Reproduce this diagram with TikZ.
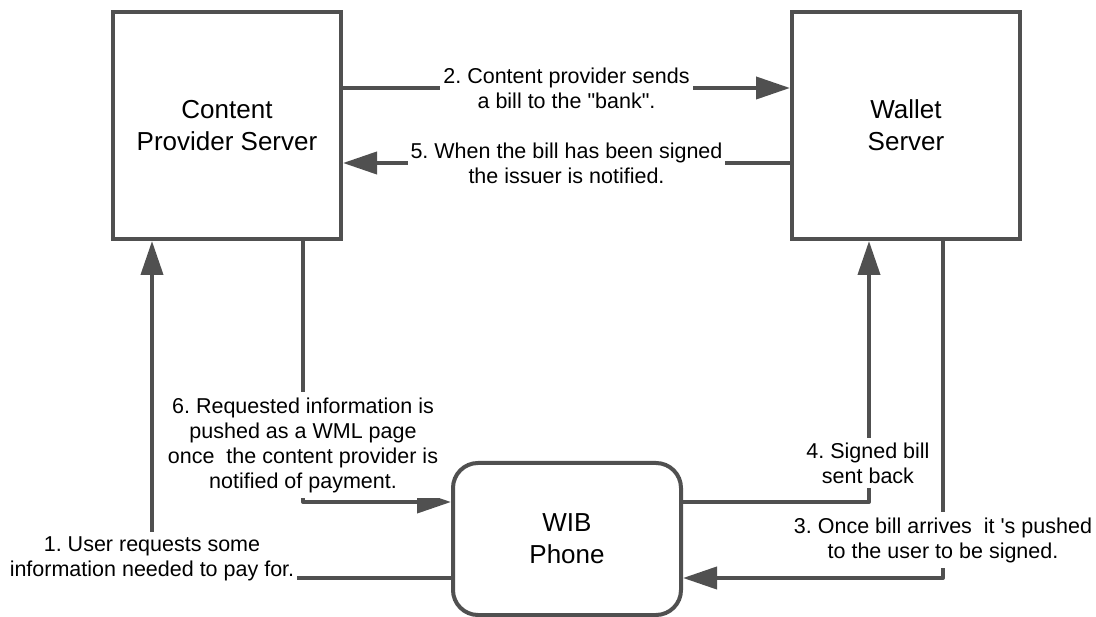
\documentclass[tikz,border=0pt]{standalone}
\usepackage{fontspec}
\setmainfont{Liberation Sans}[Ligatures=TeXOff]
\usetikzlibrary{arrows.meta}
\definecolor{linegray}{RGB}{80,80,80}
\frenchspacing
\begin{document}
\begin{tikzpicture}[x=1pt,y=-1pt,
  server/.style={draw=linegray,line width=4pt,fill=white,rectangle,
    minimum width=228pt,minimum height=227pt,inner sep=0pt,outer sep=2pt,
    align=center,font=\fontsize{26}{31.7}\selectfont},
  phone/.style={draw=linegray,line width=4pt,fill=white,rectangle,rounded corners=25pt,
    minimum width=228pt,minimum height=152pt,inner sep=0pt,outer sep=2pt,
    align=center,font=\fontsize{26}{31.7}\selectfont},
  conn/.style={draw=linegray,line width=4pt,line join=round,
    -{Triangle[length=34pt,width=22pt]}},
  lab/.style={fill=white,inner xsep=3pt,inner ysep=5pt,align=center,
    font=\fontsize{21.5}{25}\selectfont}]
\useasboundingbox (0,0) rectangle (1096,617);

% the three parties
\node[server] (cps) at (227,125.5) {Content\\Provider Server};
\node[server] (wal) at (906,125.5) {Wallet\\Server};
\node[phone]  (wib) at (567,539) {WIB\\Phone};

% server to server messages
\draw[conn] ([yshift=37.5pt]cps.east) -- ([yshift=37.5pt]wal.west)
  node[lab,midway] (l2) {2. Content provider sends\\a bill to the "bank".};
\draw[conn] ([yshift=-37.5pt]wal.west) -- ([yshift=-37.5pt]cps.east)
  node[lab,midway] (l5) {5. When the bill has been signed\\the issuer is notified.};

% phone and content provider
\draw[conn] ([yshift=-39pt]wib.west) -| ([xshift=-75pt]cps.south);
\draw[conn] ([xshift=76pt]cps.south) |- ([yshift=37pt]wib.west);

% phone and wallet server
\draw[conn] ([yshift=37pt]wib.east) -| ([xshift=-37pt]wal.south);
\draw[conn] ([xshift=37pt]wal.south) |- ([yshift=-39pt]wib.east);

% labels laid over the vertical runs
\node[lab] (l1) at (152,559) {1. User requests some\\information needed to pay for.};
\node[lab] (l6) at (303,445) {6. Requested information is\\pushed as a WML page\\once\ \ the content provider is\\notified of payment.};
\node[lab] (l4) at (868,463) {4. Signed bill\\sent back};
\node[lab] (l3) at (943,540) {3. Once bill arrives\ \ it 's pushed\\to the user to be signed.};
\end{tikzpicture}
\end{document}
